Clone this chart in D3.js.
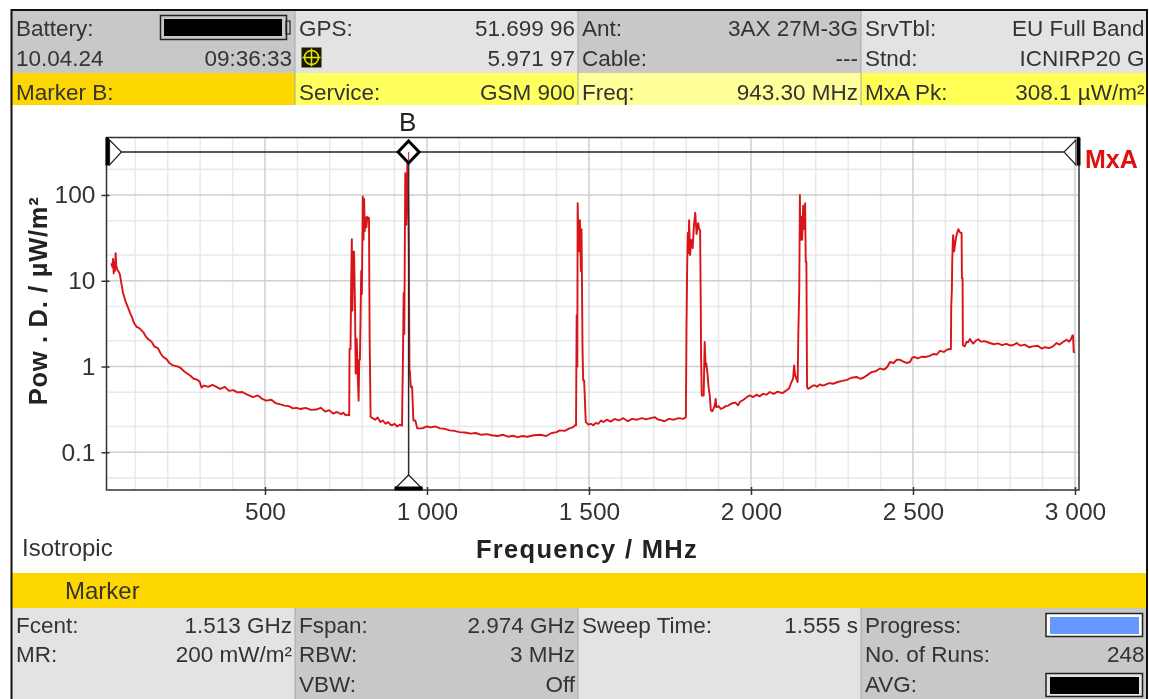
<!DOCTYPE html>
<html><head><meta charset="utf-8">
<script src="https://cdn.jsdelivr.net/npm/d3@7"></script>
<style>
html,body{margin:0;padding:0;background:#fff;overflow:hidden}
svg{display:block;font-family:"Liberation Sans",Arial,sans-serif;filter:blur(0.4px)}
</style></head><body><svg id="c" width="1149" height="699"></svg>
<script>
const traceFreq = [
26,29,31,33,35,37,39,41,44,48,52,57,62,70,78,84,89,96,104,112,125,132,140,150,158,170,178,186,196,206,216,226,237,252,268,280,292,299,304,312,325,338,350,362,376,389,402,415,430,445,463,478,491,504,520,532,545,560,574,586,597,610,625,642,658,672,686,698,710,722,735,742,749,756,
760,761,764,766,768,770,772,775,778,780,783,786,789,791,793,795,797,799,802,804,806,808,810,813,816,818,821,823,826,
832,840,848,856,864,872,880,887,892,900,908,916,923,924,926,928,930,933,936,940,943,944,946,947,950,954,958,964,970,975,
985,1000,1012,1025,1040,1055,1070,1085,1100,1118,1135,1150,1168,1185,1200,1218,1235,1250,1265,1280,1295,1310,1330,1350,1368,1385,1400,1410,1425,1440,1450,1457,
1460,1462,1464,1465,1468,1472,1475,1477,1480,1482,1485,1490,1498,1506,1513,1521,1529,1537,1544,1555,1567,1579,1592,1606,1620,1633,1648,1663,1676,1690,1704,1711,1721,1733,1747,1762,1776,1790,1799,
1801,1803,1805,1807,1809,1812,1816,1820,1824,1828,1832,1837,1840,1843,1845,1846,1848,1850,1854,1856,1857,1860,1862,1866,1869,1873,1876,1880,1884,1888,1891,1893,1900,1907,1914,1922,1930,1937,1945,1952,1960,1967,1977,1987,1996,2007,2017,2027,2037,2048,2058,2070,2082,2097,2110,2118,2125,2130,2133,2136,2140,2144,2146,2149,2151,2152,2155,2158,2161,2164,2167,2169,2171,2173,2176,2180,2186,2192,2198,
2204,2212,2222,2232,2242,2254,2268,2282,2296,2310,2326,2337,2347,2360,2372,2385,2398,2410,2420,2429,2440,2450,2460,2470,2480,2491,2498,2506,2515,2526,2537,2550,2562,2573,2583,2595,2606,2617,2618,2620,2621,2623,2624,2627,2630,2633,2636,2640,2644,2648,2650,2651,2653,2654,2660,2665,2670,2676,2681,2686,2694,2701,2710,2720,2737,2750,2762,2775,2788,2799,2810,2820,2832,2845,2858,2870,2885,2897,2908,2920,2932,2943,2952,2962,2974,2982,2988,2992,2994,2996,3000
];
const tracePower = [
16,14.5,18,12.2,16.5,13,21,15,13.5,12.8,12,9.2,7.2,5.7,4.8,4.2,3.8,3.2,2.9,2.8,2.5,2.25,2.08,1.95,1.72,1.63,1.42,1.29,1.22,1.09,1.03,1.01,0.98,0.87,0.79,0.72,0.7,0.66,0.57,0.6,0.58,0.61,0.58,0.55,0.58,0.52,0.53,0.5,0.505,0.47,0.44,0.46,0.42,0.4,0.41,0.375,0.365,0.35,0.345,0.325,0.33,0.32,0.33,0.312,0.315,0.33,0.298,0.31,0.283,0.295,0.278,0.29,0.27,0.275,
0.27,1.6,1.6,9.4,30.6,4.5,21.8,21.8,4.5,0.83,2.1,0.83,0.4,1.2,1.2,4,13,7,96,30,90,38,55,42,56,54,54,2.1,0.26,
0.25,0.24,0.255,0.226,0.235,0.215,0.225,0.21,0.206,0.215,0.2,0.21,0.205,0.42,1.4,7.2,2.4,180,45,318,50,25,0.83,0.9,0.58,0.58,0.235,0.235,0.19,0.19,
0.19,0.2,0.195,0.2,0.19,0.188,0.18,0.178,0.172,0.17,0.165,0.168,0.16,0.163,0.158,0.155,0.16,0.152,0.156,0.15,0.155,0.152,0.158,0.16,0.155,0.168,0.172,0.18,0.178,0.19,0.195,0.207,
0.207,3.96,1,80,22,51,13,40,1.64,0.69,0.69,0.226,0.21,0.215,0.207,0.22,0.215,0.235,0.225,0.24,0.228,0.245,0.235,0.25,0.23,0.245,0.24,0.25,0.242,0.25,0.256,0.243,0.237,0.23,0.245,0.24,0.25,0.245,0.256,
2.9,14,36,21,51,20,30,24,45,62,35,47,40,39,5,1.3,0.46,0.46,0.46,1.2,1.94,1,1.09,0.8,0.58,0.45,0.31,0.3,0.32,0.35,0.42,0.337,0.345,0.32,0.33,0.345,0.35,0.365,0.376,0.38,0.353,0.39,0.41,0.44,0.46,0.44,0.47,0.45,0.48,0.47,0.505,0.48,0.51,0.49,0.53,0.56,0.66,0.72,1.03,0.8,0.72,0.66,2.3,8.2,100,30,56,30,75,40,80,16.6,16.6,0.58,0.55,0.56,0.58,0.6,0.6,
0.58,0.62,0.6,0.62,0.64,0.63,0.66,0.68,0.7,0.74,0.756,0.72,0.74,0.8,0.86,0.88,0.95,0.92,0.98,1.13,1.1,1.2,1.2,1.14,1.1,1.13,1.28,1.29,1.24,1.3,1.29,1.32,1.4,1.38,1.52,1.48,1.58,1.6,4.96,8,16,30,34,22,27,32,36,40,37,36,36,10.7,10.7,1.77,1.72,1.94,1.92,2.1,1.95,1.85,2,2.08,1.95,1.98,1.88,1.82,1.86,1.78,1.84,1.76,1.78,1.88,1.75,1.8,1.68,1.72,1.75,1.62,1.68,1.64,1.72,1.88,1.8,1.92,2.05,1.95,2.1,2.3,2.3,1.48,1.48
];
const xTickValues = [500,1000,1500,2000,2500,3000];
const xTickLabels = ["500","1 000","1 500","2 000","2 500","3 000"];
const xMinorValues = [100,200,300,400,600,700,800,900,1100,1200,1300,1400,1600,1700,1800,1900,2100,2200,2300,2400,2600,2700,2800,2900];
const yTickValues = [100,10,1,0.1];
const yTickLabels = ["100","10","1","0.1"];
const yMinorValues = [200,50,20,5,2,0.5,0.2,0.05];
const markerFreq = 943.3;
const topRows = [
 ["Battery:","", "GPS:","51.699 96","Ant:","3AX 27M-3G","SrvTbl:","EU Full Band"],
 ["10.04.24","09:36:33","","5.971 97","Cable:","---","Stnd:","ICNIRP20 G"],
 ["Marker B:","","Service:","GSM 900","Freq:","943.30 MHz","MxA Pk:","308.1 µW/m²"]
];
const bottomRows = [
 ["Fcent:","1.513 GHz","Fspan:","2.974 GHz","Sweep Time:","1.555 s","Progress:",""],
 ["MR:","200 mW/m²","RBW:","3 MHz","","","No. of Runs:","248"],
 ["","","VBW:","Off","","","AVG:","6 min"]
];
const colL=[12,295,578,861,1146];
const svg=d3.select("#c");
const ink="#333", fs=22.5;
const panel=(x,y,w,h,f)=>svg.append("rect").attr("x",x).attr("y",y).attr("width",w).attr("height",h).attr("fill",f);
["#c8c8c8","#e3e3e3","#c8c8c8","#e3e3e3"].forEach((f,i)=>panel(colL[i],11,colL[i+1]-colL[i],62,f));
["#ffd700","#ffff5e","#ffff99","#ffff55"].forEach((f,i)=>panel(colL[i],73,colL[i+1]-colL[i],32,f));
panel(12,573,1134,35,"#ffd700");
["#e3e3e3","#c8c8c8","#e3e3e3","#c8c8c8"].forEach((f,i)=>panel(colL[i],608,colL[i+1]-colL[i],91,f));
colL.slice(1,4).forEach((x,i)=>{
  svg.append("line").attr("x1",x).attr("x2",x).attr("y1",11).attr("y2",105).attr("stroke","#a8a8a8").attr("stroke-width",1);
  svg.append("line").attr("x1",x).attr("x2",x).attr("y1",608).attr("y2",699).attr("stroke","#a8a8a8").attr("stroke-width",1);
});
svg.append("path").attr("d","M11.5,699V10H1147V699").attr("fill","none").attr("stroke","#111").attr("stroke-width",2);

function rows(data,ys){
  data.forEach((r,ri)=>{
    for(let c=0;c<4;c++){
      svg.append("text").attr("x",colL[c]+4).attr("y",ys[ri]).attr("font-size",fs).attr("fill",ink).text(r[c*2]);
      svg.append("text").attr("x",colL[c+1]-(c==3?1.5:3)).attr("y",ys[ri]).attr("font-size",fs).attr("fill",ink).attr("text-anchor","end").text(r[c*2+1]);
    }
  });
}
rows(topRows,[36,66,100]);
rows(bottomRows,[633,662,692]);

// icons
svg.append("rect").attr("x",160.5).attr("y",15.5).attr("width",126).attr("height",24).attr("fill","none").attr("stroke","#222").attr("stroke-width",1.5);
svg.append("rect").attr("x",286).attr("y",21).attr("width",4).attr("height",13).attr("fill","none").attr("stroke","#222").attr("stroke-width",1.2);
svg.append("rect").attr("x",164).attr("y",19).attr("width",118).attr("height",17).attr("fill","#000");
const g0=svg.append("g").attr("transform","translate(311.5,57.5)");
g0.append("rect").attr("x",-10).attr("y",-10).attr("width",20).attr("height",20).attr("fill","#1a1a00");
g0.append("circle").attr("r",7).attr("fill","none").attr("stroke","#e6e600").attr("stroke-width",1.6);
g0.append("path").attr("d","M-9,0H9M0,-9V9").attr("stroke","#e6e600").attr("stroke-width",1.5);
svg.append("rect").attr("x",1046).attr("y",613.5).attr("width",96.5).attr("height",23).attr("fill","#fff").attr("stroke","#222").attr("stroke-width",1.5);
svg.append("rect").attr("x",1050).attr("y",617).attr("width",89).attr("height",17).attr("fill","#6699ff");
svg.append("rect").attr("x",1046).attr("y",673.5).attr("width",96.5).attr("height",23).attr("fill","#e3e3e3").attr("stroke","#222").attr("stroke-width",1.5);
svg.append("rect").attr("x",1050).attr("y",677).attr("width",89).attr("height",17).attr("fill","#000");

// plot
const x=d3.scaleLinear().domain([26,3000]).range([111.4,1075]);
const y=d3.scaleLog().domain([0.1,100]).range([452.3,195]);
const fL=106.5,fR=1079,fT=137.5,fB=490;
const grid=svg.append("g");
grid.selectAll(".vm").data(xMinorValues).join("line").attr("x1",d=>x(d)).attr("x2",d=>x(d)).attr("y1",fT).attr("y2",fB).attr("stroke","#e9e9e9").attr("stroke-width",1.5);
grid.selectAll(".hm").data(yMinorValues).join("line").attr("x1",fL).attr("x2",fR).attr("y1",d=>y(d)).attr("y2",d=>y(d)).attr("stroke","#e9e9e9").attr("stroke-width",1.5);
grid.selectAll(".vM").data(xTickValues).join("line").attr("x1",d=>x(d)).attr("x2",d=>x(d)).attr("y1",fT).attr("y2",fB).attr("stroke","#cfcfcf").attr("stroke-width",1.5);
grid.selectAll(".hM").data(yTickValues).join("line").attr("x1",fL).attr("x2",fR).attr("y1",d=>y(d)).attr("y2",d=>y(d)).attr("stroke","#cfcfcf").attr("stroke-width",1.5);

const line=d3.line().x(d=>x(d[0])).y(d=>y(d[1]));
svg.append("path").datum(d3.zip(traceFreq,tracePower)).attr("d",line).attr("fill","none").attr("stroke","#d81418").attr("stroke-width",1.9).attr("stroke-linejoin","round");

// frame
svg.append("rect").attr("x",fL).attr("y",fT).attr("width",fR-fL).attr("height",fB-fT).attr("fill","none").attr("stroke","#333").attr("stroke-width",1.5);

const xAxis=d3.axisBottom(x).tickValues(xTickValues).tickFormat((d,i)=>xTickLabels[i]).tickSize(8).tickPadding(8);
const ax=svg.append("g").attr("transform",`translate(0,${fB-3})`).call(xAxis);
ax.select(".domain").remove();
ax.selectAll("line").attr("stroke","#333").attr("stroke-width",1.5);
ax.selectAll("text").attr("font-size",24.5).attr("fill",ink).attr("font-family","Liberation Sans");
const yAxis=d3.axisLeft(y).tickValues(yTickValues).tickFormat((d,i)=>yTickLabels[i]).tickSize(8).tickPadding(6);
const ay=svg.append("g").attr("transform",`translate(${fL+3},0)`).call(yAxis);
ay.select(".domain").remove();
ay.selectAll("line").attr("stroke","#333").attr("stroke-width",1.5);
ay.selectAll("text").attr("font-size",24.5).attr("fill",ink).attr("font-family","Liberation Sans");

svg.append("text").attr("x",587).attr("y",558).attr("text-anchor","middle").attr("font-size",25.5).attr("font-weight","bold").attr("letter-spacing",1.3).attr("fill","#222").text("Frequency / MHz");
svg.append("text").attr("transform","translate(47,301) rotate(-90)").attr("text-anchor","middle").attr("font-size",25.5).attr("font-weight","bold").attr("letter-spacing",0.7).attr("fill","#222").text("Pow . D. / µW/m²");
svg.append("text").attr("x",22).attr("y",556).attr("font-size",24).attr("fill",ink).text("Isotropic");
svg.append("text").attr("x",65).attr("y",599).attr("font-size",24).attr("fill",ink).text("Marker");
svg.append("text").attr("x",1085).attr("y",168).attr("font-size",25).attr("font-weight","bold").attr("fill","#dd1111").text("MxA");

// marker line and handles
const mx=x(markerFreq), hy=152;
svg.append("line").attr("x1",x.range()[0]-1).attr("x2",x.range()[1]-10).attr("y1",hy).attr("y2",hy).attr("stroke","#222").attr("stroke-width",1.5);
svg.append("line").attr("x1",mx).attr("x2",mx).attr("y1",hy+10).attr("y2",476).attr("stroke","#2a2a2a").attr("stroke-width",1.5);
svg.append("rect").attr("x",fL-1).attr("y",fT).attr("width",3.5).attr("height",28).attr("fill","#000");
svg.append("rect").attr("x",fR-2).attr("y",fT).attr("width",3.5).attr("height",28).attr("fill","#000");
svg.append("path").attr("d",`M${fL+3},140L${fL+15},${hy}L${fL+3},165Z`).attr("fill","#fff").attr("stroke","#222").attr("stroke-width",1.2);
svg.append("path").attr("d",`M${fR-3},140L${fR-15},${hy}L${fR-3},165Z`).attr("fill","#fff").attr("stroke","#222").attr("stroke-width",1.2);
svg.append("path").attr("d",`M${mx},${hy-11}L${mx+10.5},${hy}L${mx},${hy+11}L${mx-10.5},${hy}Z`).attr("fill","#fff").attr("stroke","#000").attr("stroke-width",3);
svg.append("line").attr("x1",mx).attr("x2",mx).attr("y1",hy).attr("y2",hy+9).attr("stroke","#b03030").attr("stroke-width",1);
svg.append("path").attr("d",`M${mx},475L${mx+13},488H${mx-13}Z`).attr("fill","#fff").attr("stroke","#222").attr("stroke-width",1.3);
svg.append("rect").attr("x",mx-14).attr("y",486.5).attr("width",28).attr("height",4).attr("fill","#000");
svg.append("text").attr("x",mx-1).attr("y",131).attr("text-anchor","middle").attr("font-size",26).attr("fill","#222").text("B");
</script></body></html>
